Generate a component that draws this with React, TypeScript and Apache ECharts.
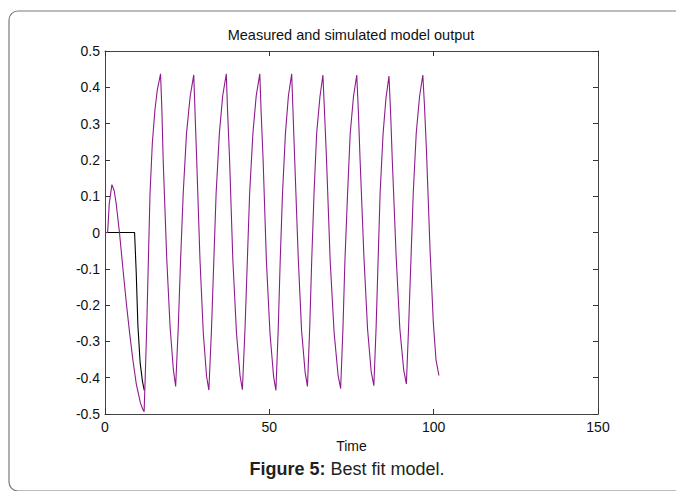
import React, { useEffect, useRef } from "react";
import * as echarts from "echarts";

const chartTitle = "Measured and simulated model output";
const xAxisName = "Time";
const captionBold = "Figure 5:";
const captionText = " Best fit model.";

const xTicks = [0, 50, 100, 150];
const yTicks = [-0.5, -0.4, -0.3, -0.2, -0.1, 0, 0.1, 0.2, 0.3, 0.4, 0.5];

const measuredTime = [0, 9.0, 9.5, 10.0, 10.7, 11.4, 11.95];
const measuredOutput = [0, 0, -0.11, -0.255, -0.36, -0.41, -0.435];

const simulatedTime = [
  0, 0.8, 1.3, 2.1, 2.8, 3.4, 4.4, 5.5, 6.5, 7.5, 8.5, 9.5, 10.8, 11.5, 11.9,
  12.3, 12.7, 13.2, 13.7, 14.4, 15.2, 15.9, 16.9,
  17.3, 17.7, 18.8, 19.8, 20.8, 21.5,
  22.3, 23.0, 23.8, 24.8, 25.9, 27.0,
  27.4, 27.9, 28.9, 29.9, 30.9, 31.6,
  32.4, 33.1, 33.8, 34.8, 35.8, 36.9,
  37.3, 37.9, 38.9, 40.0, 41.1, 41.8,
  42.6, 43.3, 44.0, 45.0, 46.0, 47.1,
  47.5, 48.1, 49.1, 50.2, 51.3, 52.0,
  52.7, 53.3, 54.0, 54.9, 55.8, 56.8,
  57.2, 57.7, 58.8, 59.8, 60.9, 61.6,
  62.3, 62.9, 63.6, 64.4, 65.4, 66.3,
  66.8, 67.4, 68.5, 69.7, 70.9, 71.7,
  72.4, 73.0, 73.8, 74.6, 75.6, 76.6,
  77.1, 77.6, 78.8, 79.9, 81.0, 81.8,
  82.5, 83.1, 83.7, 84.6, 85.5, 86.4,
  86.9, 87.4, 88.6, 89.7, 90.9, 91.7,
  92.4, 93.1, 93.8, 94.7, 95.7, 96.7,
  97.2, 97.8, 98.9, 99.9, 100.7, 101.6,
];
const simulatedOutput = [
  0, 0, 0.08, 0.132, 0.115, 0.08, 0, -0.104, -0.195, -0.278, -0.352, -0.416, -0.47, -0.487, -0.494,
  -0.38, -0.259, -0.075, 0.108, 0.246, 0.338, 0.392, 0.437,
  0.34, 0.2, -0.075, -0.259, -0.378, -0.424,
  -0.259, -0.075, 0.108, 0.273, 0.374, 0.434,
  0.33, 0.2, -0.075, -0.276, -0.396, -0.434,
  -0.267, -0.08, 0.106, 0.273, 0.376, 0.437,
  0.333, 0.202, -0.076, -0.276, -0.395, -0.433,
  -0.266, -0.079, 0.106, 0.273, 0.376, 0.437,
  0.332, 0.202, -0.077, -0.278, -0.397, -0.435,
  -0.268, -0.08, 0.106, 0.273, 0.376, 0.437,
  0.334, 0.205, -0.071, -0.269, -0.386, -0.424,
  -0.259, -0.075, 0.108, 0.273, 0.374, 0.434,
  0.33, 0.201, -0.076, -0.274, -0.392, -0.43,
  -0.264, -0.078, 0.106, 0.272, 0.374, 0.434,
  0.331, 0.203, -0.071, -0.268, -0.384, -0.422,
  -0.258, -0.075, 0.107, 0.271, 0.371, 0.431,
  0.329, 0.202, -0.069, -0.264, -0.38, -0.417,
  -0.254, -0.071, 0.111, 0.274, 0.374, 0.434,
  0.35, 0.227, -0.048, -0.249, -0.35, -0.394,
];

const FONT = "Liberation Sans, Arial, sans-serif";

export default function App() {
  const ref = useRef<HTMLDivElement>(null);
  useEffect(() => {
    if (!ref.current) return;
    const chart = echarts.init(ref.current, undefined, { renderer: "svg" });
    const xMin = xTicks[0];
    const xMax = xTicks[xTicks.length - 1];
    const yMin = yTicks[0];
    const yMax = yTicks[yTicks.length - 1];
    const tickStyle = { show: true, inside: true, length: 5, lineStyle: { color: "#333", width: 1 } };
    const lineStyleAxis = { show: true, onZero: false, lineStyle: { color: "#444", width: 1 } };
    chart.setOption({
      animation: false,
      backgroundColor: "#fff",
      grid: { left: 105, right: 78, top: 51, bottom: 77, containLabel: false },
      xAxis: [
        {
          type: "value",
          min: xMin,
          max: xMax,
          interval: 50,
          position: "bottom",
          name: xAxisName,
          nameLocation: "middle",
          nameGap: 25,
          nameTextStyle: { fontFamily: FONT, fontSize: 14, color: "#111" },
          axisLine: lineStyleAxis,
          axisTick: tickStyle,
          axisLabel: { fontFamily: FONT, fontSize: 14, color: "#111", margin: 6 },
          splitLine: { show: false },
        },
        {
          type: "value",
          min: xMin,
          max: xMax,
          interval: 50,
          position: "top",
          axisLine: lineStyleAxis,
          axisTick: tickStyle,
          axisLabel: { show: false },
          splitLine: { show: false },
        },
      ],
      yAxis: [
        {
          type: "value",
          min: yMin,
          max: yMax,
          interval: 0.1,
          position: "left",
          axisLine: lineStyleAxis,
          axisTick: tickStyle,
          axisLabel: {
            fontFamily: FONT,
            fontSize: 14,
            color: "#111",
            margin: 5,
            formatter: (v: number) => String(Math.round(v * 10) / 10),
          },
          splitLine: { show: false },
        },
        {
          type: "value",
          min: yMin,
          max: yMax,
          interval: 0.1,
          position: "right",
          axisLine: lineStyleAxis,
          axisTick: tickStyle,
          axisLabel: { show: false },
          splitLine: { show: false },
        },
      ],
      series: [
        {
          name: "Measured",
          type: "line",
          xAxisIndex: 0,
          yAxisIndex: 0,
          data: measuredTime.map((t, i) => [t, measuredOutput[i]]),
          showSymbol: false,
          symbol: "none",
          lineStyle: { color: "#000", width: 1.1 },
          z: 2,
        },
        {
          name: "Simulated",
          type: "line",
          xAxisIndex: 0,
          yAxisIndex: 0,
          data: simulatedTime.map((t, i) => [t, simulatedOutput[i]]),
          showSymbol: false,
          symbol: "none",
          lineStyle: { color: "#8e1a8e", width: 1.1 },
          z: 3,
        },
      ],
      graphic: [
        {
          type: "rect",
          shape: { x: 9, y: 11, width: 720, height: 480, r: 9 },
          style: { fill: "none", stroke: "#7a7a7a", lineWidth: 1.2 },
          z: 0,
        },
        {
          type: "text",
          x: 351,
          y: 35,
          style: {
            text: chartTitle,
            fontFamily: FONT,
            fontSize: 14.5,
            fill: "#111",
            align: "center",
            verticalAlign: "middle",
          },
        },
        {
          type: "text",
          x: 347,
          y: 469,
          style: {
            text: "{b|" + captionBold + "}{r|" + captionText + "}",
            fontFamily: FONT,
            fontSize: 18,
            fill: "#231f20",
            align: "center",
            verticalAlign: "middle",
            rich: {
              b: { fontFamily: FONT, fontSize: 18, fontWeight: "bold", fill: "#231f20" },
              r: { fontFamily: FONT, fontSize: 18, fill: "#231f20" },
            },
          },
        },
      ],
    });
    return () => chart.dispose();
  }, []);
  return <div ref={ref} style={{ width: 676, height: 491, position: "absolute", left: 0, top: 0 }} />;
}
